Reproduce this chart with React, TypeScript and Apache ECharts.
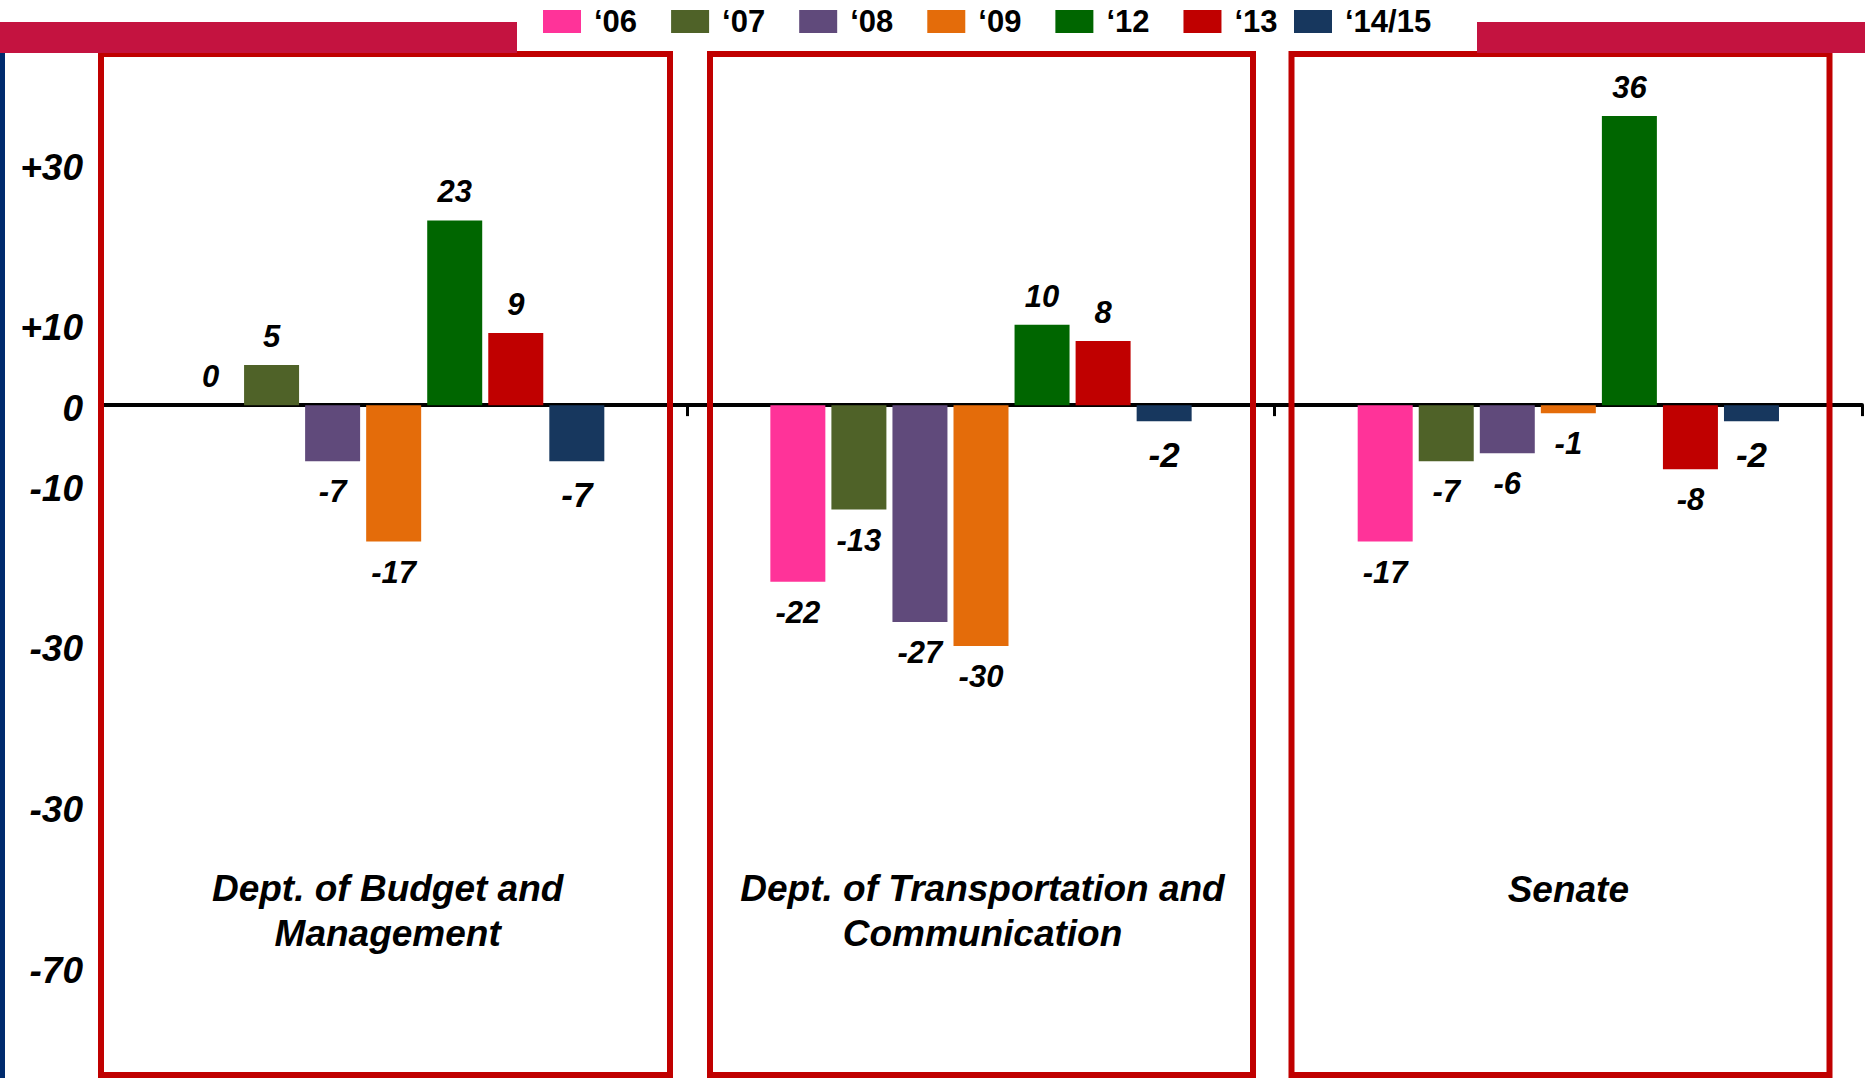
import React, { useEffect, useRef } from 'react';
import * as echarts from 'echarts';

const categories = [
  'Dept. of Budget and\nManagement',
  'Dept. of Transportation and\nCommunication',
  'Senate',
];
const seriesNames = ['\u201806', '\u201807', '\u201808', '\u201809', '\u201812', '\u201813', '\u201814/15'];
const seriesColors = ['#FF3399', '#4F6228', '#604A7B', '#E46C0A', '#006600', '#C00000', '#17375E'];
const values06 = [0, -22, -17];
const values07 = [5, -13, -7];
const values08 = [-7, -27, -6];
const values09 = [-17, -30, -1];
const values12 = [23, 10, 36];
const values13 = [9, 8, -8];
const values1415 = [-7, -2, -2];
const seriesValues = [values06, values07, values08, values09, values12, values13, values1415];
const tickValues = [30, 10, 0, -10, -30, -50, -70];
const tickLabels = ['+30', '+10', '0', '-10', '-30', '-30', '-70'];

const FONT = "'Liberation Sans', Arial, Helvetica, sans-serif";

export default function App() {
  const ref = useRef<HTMLDivElement>(null);

  useEffect(() => {
    if (!ref.current) return;
    const chart = echarts.init(ref.current, null, { renderer: 'svg' });

    const series = seriesNames.map((name, i) => ({
      name,
      type: 'bar',
      barWidth: 55,
      barGap: '11%',
      itemStyle: { color: seriesColors[i] },
      label: {
        show: true,
        color: '#000',
        fontFamily: FONT,
        fontWeight: 'bold',
        fontStyle: 'italic',
        fontSize: i === 6 ? 35 : 31,
      },
      data: seriesValues[i].map((v) => ({
        value: v,
        label: {
          position: v < 0 ? 'bottom' : 'top',
          distance: v < 0 ? (i === 6 ? 16 : 15) : 13,
        },
      })),
    }));

    const legendBase = {
      top: 6,
      padding: 0,
      itemWidth: 38,
      itemHeight: 23,
      itemGap: 34,
      icon: 'rect',
      selectedMode: false,
      textStyle: {
        fontFamily: FONT,
        fontWeight: 'bold',
        fontSize: 31,
        color: '#000',
        padding: [0, 0, 0, 8],
      },
    };

    const option: any = {
      animation: false,
      backgroundColor: '#fff',
      legend: [
        { ...legendBase, data: seriesNames.slice(0, 6), left: 543 },
        { ...legendBase, data: seriesNames.slice(6), left: 1294 },
      ],
      grid: { left: 100, right: 3, top: 84, bottom: 30.6, containLabel: false },
      xAxis: {
        type: 'category',
        data: categories,
        axisLine: { show: true, onZero: true, lineStyle: { color: '#000', width: 4 } },
        axisTick: { show: true, length: 11, lineStyle: { color: '#000', width: 3 } },
        axisLabel: { show: false },
        splitLine: { show: false },
      },
      yAxis: {
        type: 'value',
        min: -80,
        max: 40,
        interval: 10,
        axisLine: { show: false },
        axisTick: { show: false },
        splitLine: { show: false },
        axisLabel: {
          margin: 17,
          color: '#000',
          fontFamily: FONT,
          fontWeight: 'bold',
          fontStyle: 'italic',
          fontSize: 37,
          formatter: (v: number) => {
            const idx = tickValues.indexOf(v);
            return idx >= 0 ? '{v|' + tickLabels[idx] + '}' : '';
          },
          rich: {
            v: {
              color: '#000',
              fontFamily: FONT,
              fontWeight: 'bold',
              fontStyle: 'italic',
              fontSize: 37,
              padding: [6, 0, 0, 0],
            },
          },
        },
      },
      series,
    };
    chart.setOption(option);

    const titleShift = [-6, 1.5, 0];
    const titleEls = categories.map((c, i) => {
      const x = chart.convertToPixel({ xAxisIndex: 0 }, i) as number;
      const twoLine = c.indexOf('\n') >= 0;
      return {
        type: 'text',
        x: x + titleShift[i],
        y: twoLine ? 911 : 889,
        z: 50,
        style: {
          text: c,
          fill: '#000',
          fontFamily: FONT,
          fontWeight: 'bold',
          fontStyle: 'italic',
          fontSize: 37,
          lineHeight: 45,
          align: 'center',
          verticalAlign: 'middle',
        },
      };
    });

    const frames = [
      { x: 101, w: 569 },
      { x: 710, w: 543 },
      { x: 1291.5, w: 538 },
    ].map((f) => ({
      type: 'rect',
      z: 100,
      shape: { x: f.x, y: 54, width: f.w, height: 1021 },
      style: { fill: 'none', stroke: '#C00000', lineWidth: 6 },
    }));

    chart.setOption({
      graphic: [
        ...frames,
        { type: 'rect', z: 110, shape: { x: 0, y: 22, width: 517, height: 31 }, style: { fill: '#C41340' } },
        { type: 'rect', z: 110, shape: { x: 1477, y: 22, width: 388, height: 31 }, style: { fill: '#C41340' } },
        { type: 'rect', z: 110, shape: { x: 0, y: 53, width: 5, height: 1025 }, style: { fill: '#002B6E' } },
        ...titleEls,
      ],
    });

    return () => chart.dispose();
  }, []);

  return (
    <div
      ref={ref}
      style={{ position: 'absolute', left: 0, top: 0, width: 1865, height: 1078 }}
    />
  );
}
